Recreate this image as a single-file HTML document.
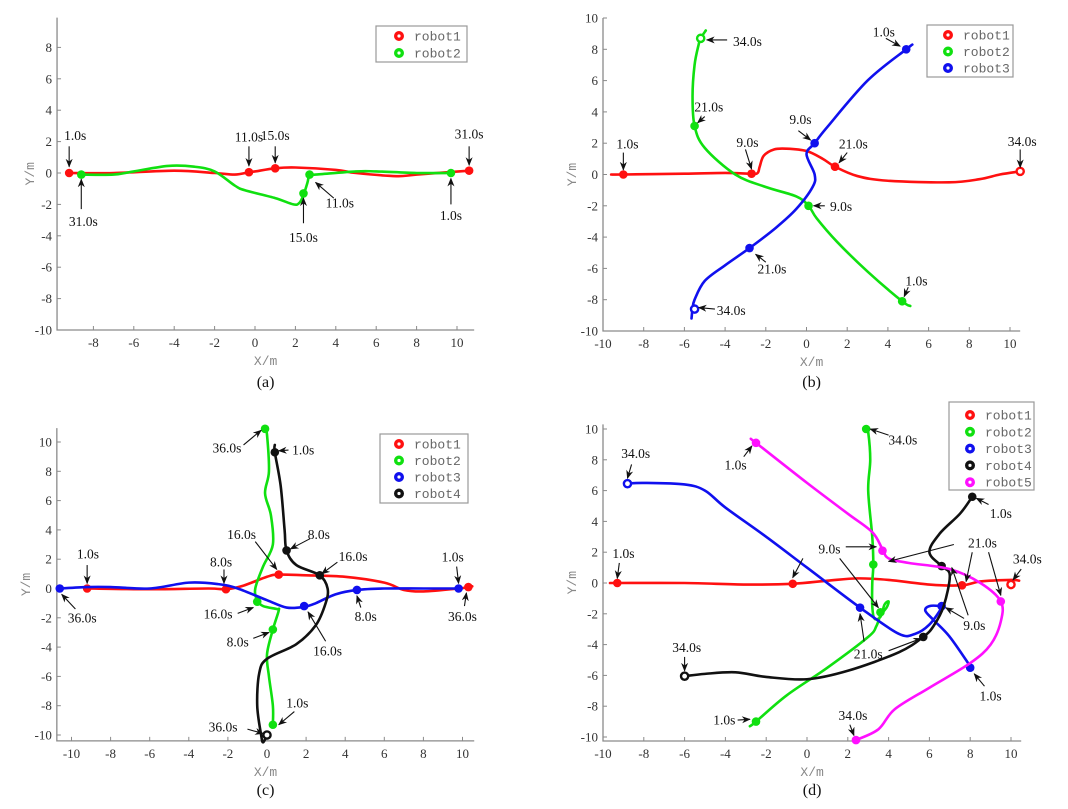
<!DOCTYPE html>
<html><head><meta charset="utf-8">
<style>
html,body{margin:0;padding:0;background:#fff;}
svg{display:block;}
.tk{font-family:"Liberation Serif",serif;font-size:13px;fill:#333;}
.an{font-family:"Liberation Serif",serif;font-size:13.5px;fill:#111;}
.al{font-family:"Liberation Mono",monospace;font-size:13px;fill:#888;}
.lg{font-family:"Liberation Mono",monospace;font-size:13px;fill:#666;}
.cap{font-family:"Liberation Serif",serif;font-size:16px;fill:#111;}
</style></head>
<body>
<svg id="fig" width="1068" height="809" viewBox="0 0 1068 809" xmlns="http://www.w3.org/2000/svg">
<defs><marker id="ah" viewBox="0 0 10 10" refX="9" refY="5" markerWidth="8" markerHeight="8" orient="auto"><path d="M0,1 L10,5 L0,9 L3,5 Z" fill="#111"/></marker></defs>
</svg>
<script>
const NS="http://www.w3.org/2000/svg";
const svg=document.getElementById('fig');
const COL={r:'#ff1010',g:'#10e010',b:'#1010ee',k:'#111111',m:'#ff10ff'};

// ---- panel (a) data ----
const aRobot1=[[-9.2,0],[-7,0],[-4,0.15],[-2,0],[-1,-0.1],[-0.3,0.05],[0,0.1],[1,0.3],[2,0.35],[4,0.2],[5,0],[7,-0.2],[8,-0.1],[10.6,0.15]];
const aRobot1Marks=[[-9.2,0],[-0.3,0.05],[1,0.3],[10.6,0.15]];
const aRobot2=[[9.7,0],[8,0],[6,0.1],[5,0.1],[3,-0.1],[2.7,-0.1],[2.6,-0.6],[2.4,-1.4],[2.2,-1.9],[1.9,-2.0],[1,-1.6],[-0.5,-1.1],[-1,-0.8],[-2,0.1],[-3,0.4],[-4.3,0.45],[-6,0.1],[-7,-0.1],[-8.6,-0.1]];
const aRobot2Marks=[[9.7,0],[2.7,-0.1],[2.4,-1.3],[-8.6,-0.1]];
const aXTicks=[-8,-6,-4,-2,0,2,4,6,8,10];
const aYTicks=[-10,-8,-6,-4,-2,0,2,4,6,8];

// ---- panel (b) data ----
const bRobot1=[[-9.6,0],[-9,0],[-6,0.05],[-4,0.1],[-2.7,0.05],[-2.4,0.1],[-2.3,0.5],[-2.1,1.2],[-1.6,1.6],[-1,1.65],[0,1.5],[0.8,1.0],[1.4,0.5],[2.5,-0.1],[4,-0.4],[7,-0.5],[8.5,-0.3],[9.5,0],[10.5,0.2]];
const bRobot1Marks=[[-9,0],[-2.7,0.05],[1.4,0.5],[10.5,0.2]];
const bRobot2=[[5.1,-8.4],[4.7,-8.1],[3,-6.2],[1.5,-4.3],[0.5,-2.8],[0.1,-2.0],[-0.5,-1.4],[-2,-0.8],[-3.5,0],[-5,1.7],[-5.5,3.1],[-5.6,5],[-5.5,7],[-5.3,8.3],[-5.2,8.7],[-4.95,9.2]];
const bRobot2Marks=[[4.7,-8.1],[0.1,-2.0],[-5.5,3.1],[-5.2,8.7]];
const bRobot3=[[5.2,8.3],[4.9,8.0],[3,6],[1,3],[0.4,2],[0,1.3],[0.4,0],[0.3,-0.8],[-0.5,-2.2],[-1.5,-3.4],[-2.8,-4.7],[-4,-5.8],[-5,-6.8],[-5.5,-8],[-5.6,-8.6],[-5.65,-9.2]];
const bRobot3Marks=[[4.9,8.0],[0.4,2.0],[-2.8,-4.7],[-5.5,-8.6]];
const bXTicks=[-10,-8,-6,-4,-2,0,2,4,6,8,10];
const bYTicks=[-10,-8,-6,-4,-2,0,2,4,6,8,10];

// ---- panel (c) data ----
const cRobot1=[[-9.2,0],[-6,-0.05],[-3,0],[-2.1,-0.05],[-1.2,0.2],[0,0.8],[0.6,0.95],[2,0.9],[4,0.8],[6,0.4],[7,-0.1],[8,-0.2],[9.8,0],[10.3,0.1],[10.5,0.15]];
const cRobot1Marks=[[-9.2,0],[-2.1,-0.05],[0.6,0.95],[10.3,0.1]];
const cRobot2=[[0.3,-9.3],[0.3,-8],[0.1,-6],[0,-4.5],[0.3,-2.8],[0.6,-1.5],[0.5,-1.4],[-0.2,-1.2],[-0.5,-0.8],[-0.6,0],[-0.2,1.5],[0.3,3],[0.2,5],[-0.1,6.5],[0.1,8],[0,10.5],[-0.1,10.95]];
const cRobot2Marks=[[0.3,-9.3],[0.3,-2.8],[-0.5,-0.9],[-0.1,10.9]];
const cRobot3=[[9.8,0],[8,0],[6,0],[4.6,-0.1],[3.5,-0.4],[2.5,-1],[1.9,-1.25],[1,-1.3],[0,-0.8],[-1.5,0],[-2.5,0.3],[-4,0.4],[-6,0],[-8,0.1],[-9.2,0.1],[-10.6,0]];
const cRobot3Marks=[[9.8,0],[4.6,-0.1],[1.9,-1.2],[-10.6,0]];
const cRobot4=[[0.4,9.8],[0.4,9.3],[0.7,7],[0.9,4],[1.0,2.6],[1.5,1.6],[2.7,0.9],[3.1,0],[3,-1],[2.5,-2.5],[1.5,-3.8],[0,-4.8],[-0.4,-5.8],[-0.5,-8],[-0.3,-10],[-0.2,-10.5],[0,-10]];
const cRobot4Marks=[[0.4,9.3],[1.0,2.6],[2.7,0.9],[0,-10]];
const cXTicks=[-10,-8,-6,-4,-2,0,2,4,6,8,10];
const cYTicks=[-10,-8,-6,-4,-2,0,2,4,6,8,10];

// ---- panel (d) data ----
const dRobot1=[[-9.6,0],[-9.3,0],[-6,0],[-3,-0.1],[-0.7,-0.05],[1,0.15],[2.5,0.3],[4,0.2],[6,-0.1],[7.6,-0.15],[8.5,0.1],[10,0.2],[10.4,0.15]];
const dRobot1Marks=[[-9.3,0],[-0.7,-0.05],[7.6,-0.15],[10,-0.1]];
const dRobot2=[[-2.8,-9.3],[-2.5,-9],[-1,-7.3],[1,-5.5],[3,-3.5],[3.4,-2.8],[3.6,-2.1],[3.9,-1.6],[4,-1.2],[3.8,-1.4],[3.6,-2.2],[3.3,-2.3],[3.2,-1.5],[3.2,0],[3.25,1.2],[3.2,3],[3,6],[3.1,8],[3,9.8],[2.9,10.0]];
const dRobot2Marks=[[-2.5,-9],[3.25,1.2],[3.6,-1.9],[2.9,10]];
const dRobot3=[[8.1,-5.6],[8,-5.4],[7,-3.5],[6.2,-2.4],[5.8,-1.8],[6,-1.5],[6.5,-1.5],[6.6,-1.6],[6,-2.7],[5.3,-3.3],[4.5,-3.3],[2.6,-1.6],[0,1],[-2,3],[-4,4.9],[-5,6],[-6,6.4],[-8,6.5],[-8.8,6.45]];
const dRobot3Marks=[[8,-5.5],[6.6,-1.5],[2.6,-1.6],[-8.8,6.45]];
const dRobot4=[[8.1,5.6],[7.5,4.5],[6.5,3.2],[6,2],[6.6,1.1],[7,0.5],[6.7,-1.5],[6.2,-2.8],[5.7,-3.5],[4.5,-4.5],[2,-5.7],[0,-6.25],[-2,-6.1],[-3.5,-5.8],[-5,-5.9],[-6,-6.05]];
const dRobot4Marks=[[8.1,5.6],[6.6,1.1],[5.7,-3.5],[-6,-6.05]];
const dRobot5=[[-2.7,9.3],[-2.5,9.1],[0,6.5],[2,4.5],[3.2,3.3],[3.7,2.2],[4,1.6],[5,1.3],[7,0.9],[8.5,0],[9.5,-1.2],[9.5,-2.5],[9,-4],[8,-5.2],[6,-6.8],[4.3,-8.2],[3.5,-9.5],[2.4,-10.2]];
const dRobot5Marks=[[-2.5,9.1],[3.7,2.1],[9.5,-1.2],[2.4,-10.2]];
const dXTicks=[-10,-8,-6,-4,-2,0,2,4,6,8,10];
const dYTicks=[-10,-8,-6,-4,-2,0,2,4,6,8,10];

function el(tag,attrs,parent,text){const e=document.createElementNS(NS,tag);for(const k in attrs)e.setAttribute(k,attrs[k]);if(text!==undefined)e.textContent=text;(parent||svg).appendChild(e);return e;}
function curve(pts){
  let d='M'+pts[0][0]+','+pts[0][1];
  for(let i=0;i<pts.length-1;i++){const p0=pts[i-1]||pts[i],p1=pts[i],p2=pts[i+1],p3=pts[i+2]||p2;
    const c1=[p1[0]+(p2[0]-p0[0])/6,p1[1]+(p2[1]-p0[1])/6],c2=[p2[0]-(p3[0]-p1[0])/6,p2[1]-(p3[1]-p1[1])/6];
    d+=' C'+c1[0]+','+c1[1]+' '+c2[0]+','+c2[1]+' '+p2[0]+','+p2[1];}
  return d;}

function panel(P){
  const g=el('g',{});
  
  
  const sx=v=>P.px0+(v-P.x0)*(P.px1-P.px0)/(P.x1-P.x0);
  const sy=v=>P.py0+(v-P.y0)*(P.py1-P.py0)/(P.y1-P.y0);
  const L=sx(P.xmin),R=sx(P.xmax),B=sy(P.ymin),T=sy(P.ymax);
  const ax=el('path',{d:`M${L},${T} L${L},${B} L${R},${B}`,fill:'none',stroke:'#8a8a8a','stroke-width':1.3},g);
  
  P.xt.forEach(v=>{const x=sx(v);el('line',{x1:x,x2:x,y1:B,y2:B-4,stroke:'#8a8a8a'},g);
    const t=el('text',{x:x,y:B+17,'text-anchor':'middle',class:'tk'},g,String(v));
    });
  P.yt.forEach(v=>{const y=sy(v);el('line',{x1:L,x2:L+4,y1:y,y2:y,stroke:'#8a8a8a'},g);
    const t=el('text',{x:L-5,y:y+4.5,'text-anchor':'end',class:'tk'},g,String(v));
    });
  const xl=el('text',{x:(L+R)/2,y:B+35,'text-anchor':'middle',class:'al'},g,'X/m');
  
  const yx=P.ylabX, yy=(T+B)/2;
  const yl=el('text',{x:yx,y:yy,'text-anchor':'middle',class:'al',transform:`rotate(-90 ${yx} ${yy})`},g,'Y/m');
  
  const cp=el('text',{x:(L+R)/2,y:P.capY,'text-anchor':'middle',class:'cap'},g,P.cap);
  
  P.series.forEach(s=>{
    const pl=el('path',{d:curve(s.pts.map(p=>[sx(p[0]),sy(p[1])])),fill:'none',stroke:COL[s.c],'stroke-width':2.6,'stroke-linejoin':'round','stroke-linecap':'round'},g);
    
    s.marks.forEach((m,i)=>{const hollow=s.hollow&&i===s.marks.length-1;
      const c=el('circle',{cx:sx(m[0]),cy:sy(m[1]),r:hollow?3.6:4.3,fill:hollow?'#fff':COL[s.c],stroke:COL[s.c],'stroke-width':hollow?2.4:0},g);
      });
  });
  P.ann.forEach(a=>{
    a.ar.forEach(r=>{const l=el('line',{x1:sx(r[0]),y1:sy(r[1]),x2:sx(r[2]),y2:sy(r[3]),stroke:'#111','stroke-width':1.1,'marker-end':'url(#ah)'},g);
      });
    const t=el('text',{x:sx(a.x),y:sy(a.y)+4.5,'text-anchor':'middle',class:'an'},g,a.t);
    
  });
  const lg=P.leg;
  const lb=el('rect',{x:lg.x,y:lg.y,width:lg.w,height:lg.h,fill:'#fff',stroke:'#999','stroke-width':1.2},g);
  
  P.series.forEach((s,i)=>{const y=lg.y0+i*lg.dy;
    const c=el('circle',{cx:lg.mx,cy:y,r:3.3,fill:'#fff',stroke:COL[s.c],'stroke-width':3.4},g);
    
    const t=el('text',{x:lg.mx+15,y:y+4.5,class:'lg'},g,s.n);
    });
}

panel({name:'panel-a',cap:'(a)',capY:387,ylabX:34,x0:0,x1:10,px0:255,px1:457,y0:0,y1:-10,py0:173,py1:330,
  xmin:-9.8,xmax:10.85,ymin:-10,ymax:9.9,xt:aXTicks,yt:aYTicks,
  series:[{n:'robot1',c:'r',pts:aRobot1,marks:aRobot1Marks},{n:'robot2',c:'g',pts:aRobot2,marks:aRobot2Marks}],
  leg:{x:376,y:26,w:91,h:36,mx:399,y0:36,dy:17},
  ann:[{t:'1.0s',x:-8.9,y:2.4,ar:[[-9.2,1.7,-9.2,0.4]]},{t:'11.0s',x:-0.3,y:2.3,ar:[[-0.3,1.7,-0.3,0.45]]},
   {t:'15.0s',x:1.0,y:2.4,ar:[[1.0,1.7,1.0,0.65]]},{t:'31.0s',x:10.6,y:2.5,ar:[[10.6,1.7,10.6,0.5]]},
   {t:'31.0s',x:-8.5,y:-3.1,ar:[[-8.6,-2.3,-8.6,-0.4]]},{t:'15.0s',x:2.4,y:-4.1,ar:[[2.4,-3.2,2.4,-1.6]]},
   {t:'11.0s',x:4.2,y:-1.9,ar:[[3.9,-1.6,3.0,-0.6]]},{t:'1.0s',x:9.7,y:-2.7,ar:[[9.7,-2.0,9.7,-0.35]]}]});

panel({name:'panel-b',cap:'(b)',capY:387,ylabX:576,x0:-10,x1:10,px0:603,px1:1010,y0:10,y1:-10,py0:18,py1:331,
  xmin:-10,xmax:10.5,ymin:-10,ymax:10,xt:bXTicks,yt:bYTicks,
  series:[{n:'robot1',c:'r',pts:bRobot1,marks:bRobot1Marks,hollow:true},{n:'robot2',c:'g',pts:bRobot2,marks:bRobot2Marks,hollow:true},{n:'robot3',c:'b',pts:bRobot3,marks:bRobot3Marks,hollow:true}],
  leg:{x:927,y:25,w:86,h:52,mx:948,y0:35,dy:16.5},
  ann:[{t:'1.0s',x:-8.8,y:1.95,ar:[[-9,1.4,-9,0.3]]},{t:'9.0s',x:-2.9,y:2.05,ar:[[-3.0,1.6,-2.7,0.35]]},
   {t:'9.0s',x:-0.3,y:3.5,ar:[[-0.4,2.8,0.2,2.2]]},{t:'21.0s',x:2.3,y:1.95,ar:[[2.0,1.4,1.6,0.75]]},
   {t:'34.0s',x:10.6,y:2.1,ar:[[10.5,1.6,10.5,0.45]]},{t:'21.0s',x:-4.8,y:4.3,ar:[[-5.0,3.7,-5.35,3.3]]},
   {t:'34.0s',x:-2.9,y:8.5,ar:[[-3.9,8.6,-4.9,8.6]]},{t:'1.0s',x:3.8,y:9.1,ar:[[3.9,8.7,4.6,8.2]]},
   {t:'9.0s',x:1.7,y:-2.05,ar:[[0.9,-2.0,0.35,-2.0]]},{t:'21.0s',x:-1.7,y:-6.05,ar:[[-2.0,-5.6,-2.5,-5.1]]},
   {t:'1.0s',x:5.4,y:-6.8,ar:[[5.0,-7.2,4.8,-7.8]]},{t:'34.0s',x:-3.7,y:-8.7,ar:[[-4.5,-8.6,-5.3,-8.5]]}]});

panel({name:'panel-c',cap:'(c)',capY:795,ylabX:30,x0:0,x1:10,px0:267,px1:462.5,y0:10,y1:-10,py0:442,py1:735,
  xmin:-10.75,xmax:10.6,ymin:-10.4,ymax:10.95,xt:cXTicks,yt:cYTicks,
  series:[{n:'robot1',c:'r',pts:cRobot1,marks:cRobot1Marks},{n:'robot2',c:'g',pts:cRobot2,marks:cRobot2Marks},{n:'robot3',c:'b',pts:cRobot3,marks:cRobot3Marks},{n:'robot4',c:'k',pts:cRobot4,marks:cRobot4Marks,hollow:true}],
  leg:{x:380,y:434,w:88,h:69,mx:399,y0:444,dy:16.5},
  ann:[{t:'36.0s',x:-2.05,y:9.6,ar:[[-1.2,9.8,-0.3,10.8]]},{t:'1.0s',x:1.85,y:9.45,ar:[[1.1,9.45,0.6,9.4]]},
   {t:'16.0s',x:-1.3,y:3.7,ar:[[-0.6,3.2,0.5,1.3]]},{t:'8.0s',x:2.65,y:3.7,ar:[[2.2,3.4,1.2,2.7]]},
   {t:'16.0s',x:4.4,y:2.2,ar:[[3.6,1.8,2.8,1.0]]},{t:'1.0s',x:-9.16,y:2.35,ar:[[-9.2,1.6,-9.2,0.35]]},
   {t:'8.0s',x:-2.35,y:1.8,ar:[[-2.2,1.3,-2.2,0.35]]},{t:'1.0s',x:9.5,y:2.15,ar:[[9.7,1.5,9.8,0.35]]},
   {t:'36.0s',x:-9.45,y:-2.0,ar:[[-9.8,-1.4,-10.5,-0.4]]},{t:'16.0s',x:-2.5,y:-1.75,ar:[[-1.5,-1.7,-0.7,-1.3]]},
   {t:'8.0s',x:-1.5,y:-3.65,ar:[[-0.7,-3.4,0.1,-3.0]]},{t:'16.0s',x:3.1,y:-4.25,ar:[[3.0,-3.6,2.1,-1.6]]},
   {t:'8.0s',x:5.05,y:-1.9,ar:[[4.8,-1.3,4.6,-0.5]]},{t:'36.0s',x:10.0,y:-1.9,ar:[[10.1,-1.2,10.2,-0.3]]},
   {t:'1.0s',x:1.55,y:-7.8,ar:[[1.4,-8.4,0.6,-9.3]]},{t:'36.0s',x:-2.25,y:-9.45,ar:[[-1.0,-9.6,-0.2,-9.9]]}]});

panel({name:'panel-d',cap:'(d)',capY:795,ylabX:576,x0:-10,x1:10,px0:603,px1:1011,y0:10,y1:-10,py0:429,py1:737,
  xmin:-10,xmax:10.5,ymin:-10.26,ymax:10.3,xt:dXTicks,yt:dYTicks,
  series:[{n:'robot1',c:'r',pts:dRobot1,marks:dRobot1Marks,hollow:true},{n:'robot2',c:'g',pts:dRobot2,marks:dRobot2Marks},{n:'robot3',c:'b',pts:dRobot3,marks:dRobot3Marks,hollow:true},{n:'robot4',c:'k',pts:dRobot4,marks:dRobot4Marks,hollow:true},{n:'robot5',c:'m',pts:dRobot5,marks:dRobot5Marks}],
  leg:{x:949,y:402,w:85,h:88,mx:970,y0:415,dy:16.8},
  ann:[{t:'34.0s',x:-8.4,y:8.4,ar:[[-8.6,7.7,-8.8,6.8]]},{t:'1.0s',x:-3.5,y:7.65,ar:[[-3.1,8.2,-2.7,8.9]]},
   {t:'34.0s',x:4.7,y:9.3,ar:[[4.0,9.6,3.1,10]]},{t:'1.0s',x:-9.0,y:1.9,ar:[[-9.2,1.3,-9.3,0.3]]},
   {t:'9.0s',x:1.1,y:2.2,ar:[[-0.2,1.6,-0.7,0.35],[1.9,2.35,3.4,2.35],[1.6,1.6,3.5,-1.6]]},
   {t:'21.0s',x:8.6,y:2.6,ar:[[7.2,2.5,4.0,1.4],[8.1,2.0,7.8,0.1],[8.9,2.0,9.5,-0.8]]},
   {t:'34.0s',x:10.8,y:1.55,ar:[[10.5,0.9,10.1,0.2]]},{t:'1.0s',x:9.5,y:4.5,ar:[[8.9,5.1,8.3,5.5]]},
   {t:'9.0s',x:8.2,y:-2.75,ar:[[7.7,-2.3,6.8,-1.6],[7.9,-2.1,7.1,1.0]]},
   {t:'21.0s',x:3.0,y:-4.6,ar:[[2.8,-3.8,2.6,-2.0],[4.0,-4.4,5.6,-3.6]]},
   {t:'34.0s',x:-5.9,y:-4.2,ar:[[-6.0,-4.8,-6.0,-5.7]]},{t:'1.0s',x:9.0,y:-7.35,ar:[[8.7,-6.7,8.2,-5.9]]},
   {t:'1.0s',x:-4.05,y:-8.9,ar:[[-3.4,-8.9,-2.8,-8.85]]},{t:'34.0s',x:2.25,y:-8.6,ar:[[2.1,-9.2,2.3,-9.9]]}]});
</script>
</body></html>
